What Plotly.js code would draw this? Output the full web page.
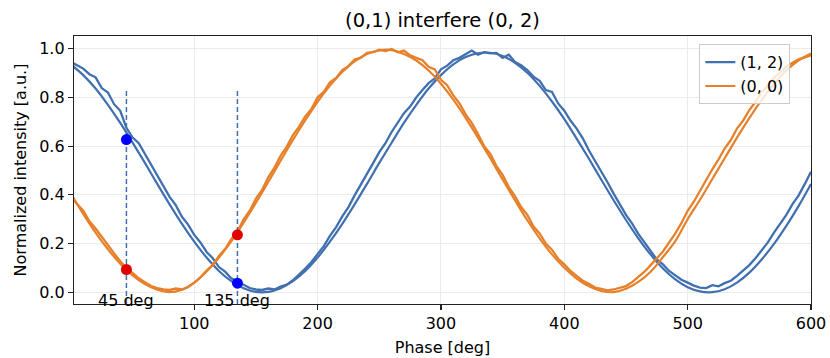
<!DOCTYPE html>
<html>
<head>
<meta charset="utf-8">
<script src="https://cdn.plot.ly/plotly-3.0.1.min.js"></script>
<style>html,body{margin:0;padding:0;background:#fff}#chart{width:830px;height:358px}</style>
</head>
<body>
<div id="chart"></div>
<script>
// ---- data ----
const phaseFit = [0,10,20,30,40,50,60,70,80,90,100,110,120,130,140,150,160,170,180,190,200,210,220,230,240,250,260,270,280,290,300,310,320,330,340,350,360,370,380,390,400,410,420,430,440,450,460,470,480,490,500,510,520,530,540,550,560,570,580,590,600];
const blueFit = [0.935,0.891,0.836,0.769,0.695,0.614,0.531,0.445,0.361,0.281,0.208,0.143,0.088,0.046,0.017,0.002,0.002,0.017,0.046,0.088,0.143,0.208,0.281,0.361,0.445,0.531,0.614,0.695,0.769,0.836,0.891,0.935,0.965,0.981,0.983,0.970,0.942,0.901,0.847,0.783,0.711,0.631,0.548,0.462,0.378,0.297,0.222,0.155,0.098,0.053,0.021,0.004,0.001,0.013,0.040,0.081,0.135,0.199,0.273,0.355,0.445];
const orangeFit = [0.405,0.322,0.245,0.177,0.118,0.070,0.034,0.011,0.001,0.011,0.040,0.086,0.143,0.209,0.286,0.368,0.453,0.540,0.625,0.706,0.782,0.848,0.904,0.948,0.978,0.993,0.994,0.978,0.951,0.910,0.856,0.791,0.716,0.635,0.550,0.463,0.378,0.296,0.222,0.156,0.101,0.057,0.025,0.006,0.001,0.015,0.043,0.085,0.145,0.210,0.300,0.380,0.465,0.550,0.635,0.715,0.790,0.855,0.910,0.952,0.980];

const phaseMeas = [0,5,10,15,20,25,30,35,40,45,50,55,60,65,70,75,80,85,90,95,100,105,110,115,120,125,130,135,140,145,150,155,160,165,170,175,180,185,190,195,200,205,210,215,220,225,230,235,240,245,250,255,260,265,270,275,280,285,290,295,300,305,310,315,320,325,330,335,340,345,350,355,360,365,370,375,380,385,390,395,400,405,410,415,420,425,430,435,440,445,450,455,460,465,470,475,480,485,490,495,500,505,510,515,520,525,530,535,540,545,550,555,560,565,570,575,580,585,590,595,600];
const blueMeas = [0.945,0.930,0.918,0.895,0.882,0.838,0.820,0.772,0.745,0.675,
  0.635,0.612,0.568,0.522,0.480,0.440,0.392,0.358,0.310,0.278,
  0.236,0.205,0.166,0.140,0.104,0.085,0.058,0.045,0.030,0.018,
  0.012,0.010,0.016,0.012,0.024,0.032,0.050,0.072,0.098,0.125,
  0.158,0.190,0.232,0.268,0.312,0.350,0.398,0.440,0.488,0.530,
  0.575,0.612,0.658,0.695,0.735,0.762,0.800,0.830,0.858,0.878,
  0.915,0.930,0.952,0.962,0.978,0.992,0.975,0.985,0.980,0.982,
  0.962,0.975,0.945,0.932,0.912,0.885,0.868,0.830,0.822,0.775,
  0.745,0.705,0.672,0.632,0.582,0.540,0.495,0.452,0.405,0.360,
  0.318,0.282,0.240,0.205,0.172,0.135,0.115,0.088,0.070,0.052,
  0.040,0.028,0.020,0.018,0.030,0.025,0.038,0.048,0.068,0.090,
  0.112,0.140,0.172,0.205,0.245,0.282,0.318,0.362,0.398,0.445,
  0.495];
const orangeMeas = [0.395,0.362,0.335,0.292,0.262,0.228,0.190,0.160,0.128,0.100,
  0.080,0.058,0.042,0.026,0.018,0.012,0.010,0.016,0.012,0.022,
  0.040,0.062,0.090,0.112,0.150,0.178,0.218,0.250,0.300,0.335,
  0.385,0.420,0.472,0.512,0.560,0.598,0.645,0.680,0.722,0.752,
  0.800,0.822,0.862,0.880,0.912,0.928,0.955,0.962,0.982,0.985,
  0.995,0.990,0.998,0.985,0.992,0.972,0.962,0.952,0.925,0.915,
  0.872,0.850,0.808,0.775,0.730,0.695,0.650,0.600,0.568,0.518,
  0.482,0.432,0.395,0.350,0.318,0.270,0.242,0.200,0.175,0.138,
  0.115,0.088,0.068,0.048,0.035,0.020,0.015,0.008,0.012,0.018,
  0.026,0.042,0.062,0.085,0.112,0.140,0.168,0.205,0.242,0.285,
  0.335,0.372,0.418,0.458,0.505,0.545,0.590,0.625,0.672,0.705,
  0.748,0.782,0.822,0.848,0.880,0.902,0.926,0.942,0.956,0.964,
  0.972];

const markPhases = [45, 135];
const markLabels = ['45 deg', '135 deg'];
const blueMarks = [0.627, 0.038];
const redMarks = [0.094, 0.236];
const vlineTop = 0.83;
const seriesNames = ['(1, 2)', '(0, 0)'];
const yTicks = [0.0, 0.2, 0.4, 0.6, 0.8, 1.0];
const xTicks = [100, 200, 300, 400, 500, 600];
const xRange = [2.5, 600];
const yRange = [-0.0475, 1.0516];

// ---- styling ----
const C_BLUE = '#4170b0';
const C_ORANGE = '#e6802b';
const FONT = 'DejaVu Sans, Verdana, sans-serif';

const traces = [];
traces.push({x: phaseMeas, y: blueMeas, mode: 'lines', line: {color: C_BLUE, width: 2.3}, showlegend: false, hoverinfo: 'skip'});
traces.push({x: phaseFit, y: blueFit, mode: 'lines', line: {color: C_BLUE, width: 2.2, shape: 'spline'}, name: seriesNames[0], showlegend: true});
traces.push({x: phaseMeas, y: orangeMeas, mode: 'lines', line: {color: C_ORANGE, width: 2.3}, showlegend: false, hoverinfo: 'skip'});
traces.push({x: phaseFit, y: orangeFit, mode: 'lines', line: {color: C_ORANGE, width: 2.2, shape: 'spline'}, name: seriesNames[1], showlegend: true});
markPhases.forEach(p => {
  traces.push({x: [p, p], y: [yRange[0], vlineTop], mode: 'lines', line: {color: C_BLUE, width: 1.5, dash: '5px,3px'}, showlegend: false, hoverinfo: 'skip'});
});
traces.push({x: markPhases, y: blueMarks, mode: 'markers', marker: {color: '#0000ff', size: 11}, showlegend: false});
traces.push({x: markPhases, y: redMarks, mode: 'markers', marker: {color: '#e00000', size: 11}, showlegend: false});

const annotations = markPhases.map((p, i) => ({
  x: p, y: -0.034, xref: 'x', yref: 'y', text: markLabels[i], showarrow: false,
  xanchor: 'center', yanchor: 'middle', font: {family: FONT, size: 16, color: '#000'}
}));

const axisCommon = {
  showline: true, mirror: true, linecolor: '#222', linewidth: 1.2,
  ticks: 'outside', ticklen: 5, tickwidth: 1.2, tickcolor: '#222',
  gridcolor: '#ebebeb', gridwidth: 1, zeroline: false,
  tickfont: {family: FONT, size: 16, color: '#000'}
};

const layout = {
  width: 830, height: 358,
  margin: {l: 74, r: 19, t: 36, b: 54, pad: 0},
  paper_bgcolor: '#fff', plot_bgcolor: '#fff',
  font: {family: FONT, size: 16, color: '#000'},
  title: {text: '(0,1) interfere (0, 2)', font: {family: FONT, size: 19.5, color: '#000'},
          x: 0.5, xref: 'paper', xanchor: 'center', y: 0.944, yref: 'container', yanchor: 'middle'},
  xaxis: Object.assign({}, axisCommon, {
    range: xRange, tickvals: xTicks, ticktext: xTicks.map(String),
    title: {text: 'Phase [deg]', font: {family: FONT, size: 16, color: '#000'}, standoff: 9}
  }),
  yaxis: Object.assign({}, axisCommon, {
    range: yRange, tickvals: yTicks, ticktext: yTicks.map(v => v.toFixed(1)),
    title: {text: 'Normalized intensity [a.u.]', font: {family: FONT, size: 16, color: '#000'}, standoff: 8}
  }),
  legend: {
    x: 0.8485, y: 0.969, xanchor: 'left', yanchor: 'top',
    bgcolor: 'rgba(255,255,255,0.8)', bordercolor: '#cccccc', borderwidth: 1,
    font: {family: FONT, size: 16, color: '#000'}, tracegroupgap: 0
  },
  annotations: annotations,
  showlegend: true
};

Plotly.newPlot('chart', traces, layout, {staticPlot: true, displayModeBar: false});
</script>
</body>
</html>
